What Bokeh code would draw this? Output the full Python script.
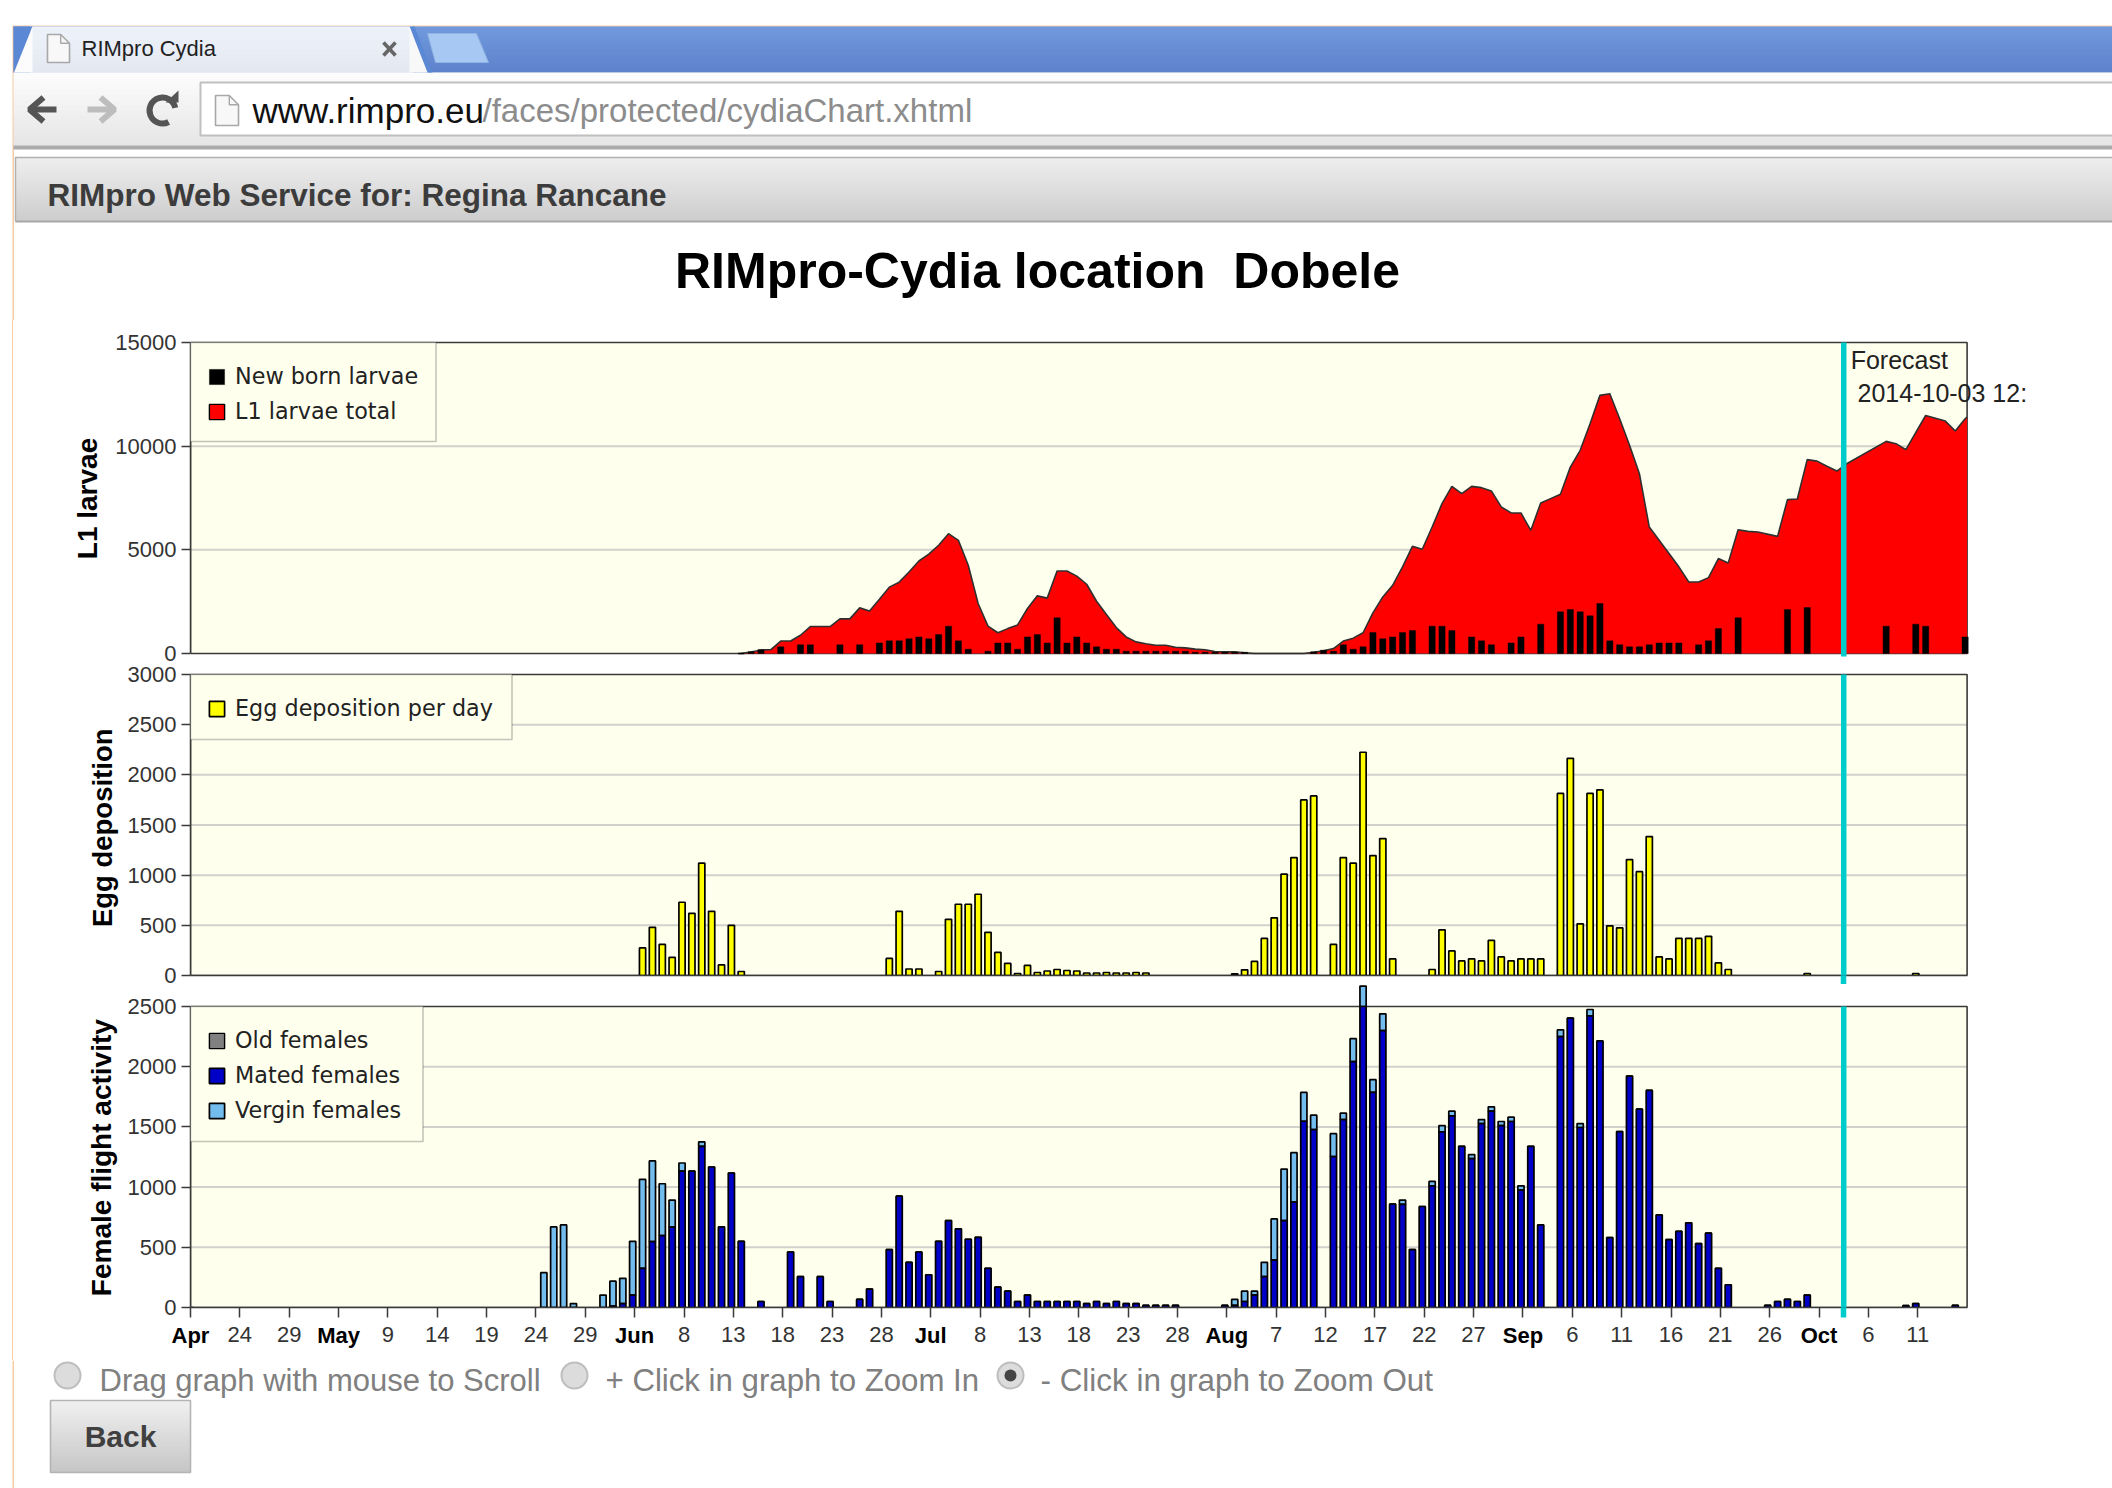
from bokeh.plotting import figure
from bokeh.embed import file_html
from bokeh.resources import INLINE
from bokeh.layouts import column
from bokeh.models import (Range1d, LinearAxis, FixedTicker, Legend, LegendItem, Label, BoxAnnotation)
from bokeh.core.properties import value

# ---------------------------------------------------------------- data
# x = days since 19 April 2014
tick_days = [5, 10, 20, 25, 30, 35, 40, 50, 55, 60, 65, 70, 80, 85, 90, 95, 100, 110, 115, 120, 125, 130, 140, 145, 150, 155, 160, 170, 175]
tick_labels = ["24", "29", "9", "14", "19", "24", "29", "8", "13", "18", "23", "28", "8", "13", "18", "23", "28", "7", "12", "17", "22", "27", "6", "11", "16", "21", "26", "6", "11"]
month_days = [0, 15, 45, 75, 105, 135, 165]
month_labels = ["Apr", "May", "Jun", "Jul", "Aug", "Sep", "Oct"]
forecast_day = 167.5

larvae_days = [55, 57, 58, 59, 60, 61, 62, 63, 64, 65, 66, 67, 68, 69, 70, 71, 72, 73, 74, 75, 76, 77, 78, 79, 80, 81, 82, 83, 84, 85, 86, 87, 88, 89, 90, 91, 92, 93, 94, 95, 96, 97, 98, 99, 100, 101, 102, 103, 104, 105, 106, 107, 112, 113, 114, 115, 116, 117, 118, 119, 120, 121, 122, 123, 124, 125, 126, 127, 128, 129, 130, 131, 132, 133, 134, 135, 136, 137, 138, 139, 140, 141, 142, 143, 144, 145, 146, 147, 148, 149, 150, 151, 152, 153, 154, 155, 156, 157, 158, 160, 161, 162, 163, 164, 165, 166, 167, 171, 172, 173, 175, 177, 178, 179, 179.2]
larvae_total = [0, 160, 190, 600, 600, 880, 1300, 1300, 1300, 1670, 1670, 2200, 2050, 2620, 3200, 3440, 3930, 4460, 4790, 5220, 5780, 5460, 4260, 2410, 1320, 1000, 1200, 1380, 2170, 2780, 2670, 3980, 3980, 3730, 3340, 2520, 1880, 1250, 800, 560, 470, 400, 400, 300, 270, 210, 180, 100, 80, 80, 30, 0, 0, 60, 130, 240, 600, 740, 1000, 1960, 2730, 3290, 4180, 5170, 5030, 6100, 7230, 8060, 7710, 8060, 8000, 7840, 7070, 6780, 6780, 5940, 7260, 7470, 7680, 8990, 9800, 11080, 12450, 12530, 11320, 10040, 8670, 6100, 5460, 4820, 4180, 3450, 3450, 3660, 4580, 4370, 5970, 5890, 5860, 5650, 7420, 7450, 9350, 9280, 9030, 8800, 9150, 10230, 10120, 9830, 11480, 11210, 10730, 11320, 11400]

newborn_days = [56, 57, 59, 61, 62, 65, 67, 69, 70, 71, 72, 73, 74, 75, 76, 77, 78, 80, 81, 82, 83, 84, 85, 86, 87, 88, 89, 90, 91, 92, 93, 94, 95, 96, 97, 98, 99, 100, 101, 102, 103, 104, 105, 106, 113, 114, 115, 116, 117, 118, 119, 120, 121, 122, 123, 125, 126, 127, 129, 130, 131, 133, 134, 136, 138, 139, 140, 141, 142, 143, 144, 145, 146, 147, 148, 149, 150, 152, 153, 154, 156, 161, 163, 171, 174, 175, 179]
newborn = [80, 190, 320, 420, 420, 420, 420, 510, 610, 610, 710, 800, 710, 915, 1320, 610, 210, 110, 510, 510, 210, 800, 915, 510, 1720, 510, 800, 510, 320, 210, 210, 110, 110, 110, 110, 110, 110, 110, 60, 60, 60, 60, 60, 60, 80, 160, 110, 420, 210, 320, 1010, 710, 800, 1010, 1110, 1320, 1320, 1110, 800, 610, 420, 510, 800, 1415, 2010, 2120, 2010, 1815, 2410, 610, 420, 320, 320, 420, 510, 510, 510, 420, 610, 1205, 1720, 2120, 2215, 1320, 1415, 1320, 800]

egg_days = [45, 46, 47, 48, 49, 50, 51, 52, 53, 54, 55, 70, 71, 72, 73, 75, 76, 77, 78, 79, 80, 81, 82, 83, 84, 85, 86, 87, 88, 89, 90, 91, 92, 93, 94, 95, 96, 105, 106, 107, 108, 109, 110, 111, 112, 113, 115, 116, 117, 118, 119, 120, 121, 125, 126, 127, 128, 129, 130, 131, 132, 133, 134, 135, 136, 138, 139, 140, 141, 142, 143, 144, 145, 146, 147, 148, 149, 150, 151, 152, 153, 154, 155, 163, 174]
egg_values = [275, 480, 310, 180, 730, 620, 1120, 640, 105, 500, 40, 170, 640, 65, 65, 40, 560, 710, 710, 810, 430, 230, 120, 20, 100, 30, 45, 60, 50, 45, 25, 25, 30, 25, 25, 30, 25, 17, 57, 140, 370, 575, 1010, 1175, 1750, 1790, 310, 1175, 1120, 2225, 1195, 1365, 165, 60, 455, 245, 145, 165, 145, 350, 185, 145, 165, 165, 165, 1815, 2165, 515, 1815, 1850, 495, 475, 1155, 1035, 1385, 185, 165, 370, 370, 370, 390, 125, 60, 20, 20]

flight_days = [35, 36, 37, 38, 41, 42, 43, 44, 45, 46, 47, 48, 49, 50, 51, 52, 53, 54, 55, 57, 60, 61, 63, 64, 67, 68, 70, 71, 72, 73, 74, 75, 76, 77, 78, 79, 80, 81, 82, 83, 84, 85, 86, 87, 88, 89, 90, 91, 92, 93, 94, 95, 96, 97, 98, 99, 104, 105, 106, 107, 108, 109, 110, 111, 112, 113, 115, 116, 117, 118, 119, 120, 121, 122, 123, 124, 125, 126, 127, 128, 129, 130, 131, 132, 133, 134, 135, 136, 138, 139, 140, 141, 142, 143, 144, 145, 146, 147, 148, 149, 150, 151, 152, 153, 154, 155, 159, 160, 161, 162, 163, 173, 174, 178]
mated_females = [0, 0, 0, 0, 0, 11, 33, 103, 325, 547, 597, 667, 1133, 1133, 1339, 1167, 669, 1117, 550, 50, 461, 256, 256, 50, 67, 153, 481, 925, 375, 461, 272, 550, 722, 653, 567, 583, 325, 169, 136, 50, 103, 50, 50, 50, 50, 50, 33, 50, 33, 50, 33, 33, 17, 17, 17, 17, 17, 17, 50, 103, 256, 394, 722, 875, 1547, 1478, 1253, 1561, 2042, 2500, 1786, 2300, 858, 856, 481, 839, 1011, 1458, 1592, 1339, 1236, 1528, 1631, 1511, 1545, 975, 1339, 686, 2250, 2403, 1495, 2422, 2214, 581, 1461, 1922, 1647, 1803, 769, 564, 633, 703, 531, 617, 325, 189, 17, 50, 67, 50, 103, 15, 33, 17]
vergin_females = [289, 669, 686, 33, 103, 208, 209, 447, 739, 670, 431, 225, 67, 0, 36, 0, 0, 0, 0, 0, 0, 0, 0, 0, 0, 0, 0, 0, 0, 0, 0, 0, 0, 0, 0, 0, 0, 0, 0, 0, 0, 0, 0, 0, 0, 0, 0, 0, 0, 0, 0, 0, 0, 0, 0, 0, 0, 50, 86, 33, 119, 342, 428, 411, 239, 119, 191, 53, 191, 170, 106, 139, 0, 36, 0, 0, 36, 53, 39, 0, 34, 33, 36, 34, 36, 36, 0, 0, 56, 0, 33, 53, 0, 0, 0, 0, 0, 0, 0, 0, 0, 0, 0, 0, 0, 0, 0, 0, 0, 0, 0, 0, 0, 0]
old_females_days = [0]
old_females = [0]

# ---------------------------------------------------------------- styles
F = "Liberation Sans"
IVORY = "#FFFFEE"
GRID = "#D2D2CC"
DARK = "#3A3A3A"
PEACH = "#F7CBA4"
CYAN = "#00CCCC"
PAGE_W = 2112
PX_PER_DAY = 9.87
COL_X = 13.5         # left edge of the chart column on the page
X0 = 190.5           # page pixel of day 0 = frame left
W = 2098
BAR_OFFSET = 0.8
BAR_W = 0.63
BAR_LINE = 1.7
x_end = (COL_X + W - X0) / PX_PER_DAY


def panel(fig_top, fig_bot, frame_top, frame_bot, ptop, pzero, ymax, ystep, ylabel, standoff, label_size="28px"):
    k = ymax / (pzero - ptop)
    yr = Range1d((pzero - frame_bot) * k, (pzero - frame_top) * k)
    h = fig_bot - fig_top
    p = figure(width=W, height=h, x_range=Range1d(0, x_end), y_range=yr, output_backend="svg", toolbar_location=None,
               x_axis_location=None, y_axis_location=None, min_border_left=int(X0 - COL_X), min_border_right=0,
               min_border_top=frame_top - fig_top, min_border_bottom=fig_bot - frame_bot,
               background_fill_color="white", border_fill_color="white", outline_line_color=None)
    p.grid.visible = False
    ticks = list(range(0, ymax + 1, ystep))
    ax = LinearAxis(ticker=FixedTicker(ticks=ticks), bounds=(0, ymax),
                    major_tick_in=0, major_tick_out=9, minor_tick_line_color=None,
                    axis_line_color=DARK, axis_line_width=1.5, major_tick_line_color=DARK, major_tick_line_width=1.5,
                    major_label_text_font=F, major_label_text_font_size="22px", major_label_text_color="#333333",
                    major_label_standoff=5, axis_label=ylabel, axis_label_text_font=F,
                    axis_label_text_font_style="bold", axis_label_text_font_size=label_size,
                    axis_label_text_color="black", axis_label_standoff=standoff)
    p.add_layout(ax, "left")
    p.quad(left=[0], right=[180], bottom=[0], top=[ymax], fill_color=IVORY, line_color=None, level="image")
    for t in ticks[1:-1]:
        p.line(x=[0, 180], y=[t, t], line_color=GRID, line_width=2, level="underlay")
    p.quad(left=[0], right=[180], bottom=[0], top=[ymax], fill_color=None, line_color=DARK, line_width=1.6,
           level="underlay")
    return p, k


def cyan(p, ymax):
    p.segment(x0=[forecast_day], y0=[p.y_range.start], x1=[forecast_day], y1=[ymax], line_color=CYAN, line_width=5.5,
              level="overlay")


def tail_axis(tick_in, tick_out, line_color=None):
    return LinearAxis(ticker=FixedTicker(ticks=[forecast_day]), major_label_overrides={forecast_day: ""},
                      major_tick_in=tick_in, major_tick_out=tick_out, minor_tick_line_color=None,
                      axis_line_color=line_color, axis_line_width=1.5, major_tick_line_color=CYAN,
                      major_tick_line_width=5.5, major_label_text_font_size="1px", major_label_standoff=0,
                      bounds=(0, 180))


def legend(p, items, box_right, box_top, box_bottom, frame_bot, first_row_top):
    p.add_layout(BoxAnnotation(left=0, right=box_right - X0, top=frame_bot - box_top,
                               bottom=frame_bot - box_bottom, left_units="screen", right_units="screen",
                               top_units="screen", bottom_units="screen", fill_color=IVORY, fill_alpha=1,
                               line_color=DARK, line_width=1.6, level="annotation"))
    n = len(items)
    row_h, gap = 25, 9
    total = row_h * n + gap * (n - 1)
    lg = Legend(items=items, location=(17, frame_bot - (first_row_top + total)), orientation="vertical",
                padding=0, margin=0, spacing=gap, glyph_width=19, glyph_height=19, label_height=18,
                label_standoff=9, border_line_color=None, background_fill_alpha=0, label_text_font="DejaVu Sans",
                label_text_font_size="22.3px", label_text_color="#222222", label_text_baseline="middle")
    p.add_layout(lg, "center")


# ---------------------------------------------------------------- panel 1
p1, k1 = panel(320, 664, 340, 656, 342, 653, 15000, 5000, "L1 larvae", 9)
area_x = [d + BAR_OFFSET for d in larvae_days]
p1.varea(x=area_x, y1=[0] * len(area_x), y2=larvae_total, fill_color="#FF0000")
p1.line(x=area_x, y=larvae_total, line_color="#303030", line_width=1.6)
nb = p1.vbar(x=[d + BAR_OFFSET for d in newborn_days], top=newborn, width=BAR_W, fill_color="black", line_color="black",
             line_width=0.4)
lt = p1.vbar(x=area_x[:1], top=larvae_total[:1], width=BAR_W, fill_color="#FF0000", line_color="black", line_width=1.4)
cyan(p1, 15000)
legend(p1, [LegendItem(label="New born larvae", renderers=[nb]), LegendItem(label="L1 larvae total", renderers=[lt])],
       436, 342, 441, 656, 365)
p1.add_layout(Label(x=forecast_day + 0.7, y=14180, text="Forecast", text_font=F, text_font_size="25px",
                    text_color="#222222", text_baseline="middle"))
p1.add_layout(Label(x=forecast_day + 1.4, y=12580, text="2014-10-03 12:", text_font=F, text_font_size="25px",
                    text_color="#222222", text_baseline="middle"))

# ---------------------------------------------------------------- panel 2
p2, k2 = panel(664, 984, 672, 975, 674, 975, 3000, 500, "Egg deposition\u00a0", 7, "27.5px")
eg = p2.vbar(x=[d + BAR_OFFSET for d in egg_days], top=egg_values, width=BAR_W, fill_color="#FFFF00", line_color="black",
             line_width=BAR_LINE)
cyan(p2, 3000)
p2.add_layout(tail_axis(0, 9, DARK), "below")
legend(p2, [LegendItem(label="Egg deposition per day", renderers=[eg])], 512, 674, 739, 975, 696)

# ---------------------------------------------------------------- panel 3
p3, k3 = panel(984, 1360, 984, 1307, 1006, 1307, 2500, 500, "Female flight activity\u00a0\u00a0\u00a0", 8)
bx = [d + BAR_OFFSET for d in flight_days]
totals = [m + v for m, v in zip(mated_females, vergin_females)]
vg = p3.vbar(x=bx, bottom=mated_females, top=totals, width=BAR_W, fill_color="#72BCEE", line_color="black", line_width=BAR_LINE)
mt = p3.vbar(x=bx, top=mated_females, width=BAR_W, fill_color="#0000C8", line_color="black", line_width=BAR_LINE)
od = p3.vbar(x=old_females_days, top=old_females, width=BAR_W, fill_color="#808080", line_color="black", line_width=1.4)
cyan(p3, 2500)
legend(p3, [LegendItem(label="Old females", renderers=[od]), LegendItem(label="Mated females", renderers=[mt]),
            LegendItem(label="Vergin females", renderers=[vg])], 423, 1006, 1141, 1307, 1030)

overrides = {d: s for d, s in zip(tick_days, tick_labels)}
overrides.update({d: "" for d in month_days})
ax_tail = tail_axis(0, 10, DARK)
ax_days = LinearAxis(ticker=FixedTicker(ticks=tick_days + month_days), major_label_overrides=overrides,
                     major_label_text_color="#333333", major_tick_in=10, major_tick_out=0,
                     minor_tick_line_color=None, axis_line_color=None,
                     major_tick_line_color=DARK, major_tick_line_width=1.5, major_label_text_font=F,
                     major_label_text_font_size="22px", major_label_standoff=9, bounds=(0, 180))
ax_months = LinearAxis(ticker=FixedTicker(ticks=month_days),
                       major_label_overrides={d: s for d, s in zip(month_days, month_labels)},
                       major_label_text_color="black", major_label_text_font_style="bold", major_tick_in=0,
                       major_tick_out=0, minor_tick_line_color=None, axis_line_color=None,
                       major_tick_line_color=None, major_label_text_font=F, major_label_text_font_size="22px",
                       major_label_standoff=-22, bounds=(0, 180))
p3.add_layout(ax_tail, "below")
p3.add_layout(ax_days, "below")
p3.add_layout(ax_months, "below")


# ---------------------------------------------------------------- browser page parts
def page_fig(y0, y1):
    p = figure(width=PAGE_W, height=y1 - y0, x_range=Range1d(0, PAGE_W), y_range=Range1d(y1, y0), output_backend="svg",
               toolbar_location=None, x_axis_location=None, y_axis_location=None, min_border=0,
               outline_line_color=None, background_fill_color="white", border_fill_color="white")
    p.grid.visible = False
    p.quad(left=[12], right=[13.5], top=[y0 if y0 else 25], bottom=[y1], fill_color=PEACH, line_color=None)
    return p


def hexc(a, b, t):
    c = [round(a[i] + (b[i] - a[i]) * t) for i in range(3)]
    return "#%02x%02x%02x" % tuple(c)


def grad(p, x0, x1, y0, y1, c0, c1):
    n = y1 - y0
    p.quad(left=[x0] * n, right=[x1] * n, top=[y0 + i for i in range(n)], bottom=[y0 + i + 1.3 for i in range(n)],
           fill_color=[hexc(c0, c1, i / max(n - 1, 1)) for i in range(n)], line_color=None)


def txt(p, x, y, s, size, color="black", style="normal", align="left", font=F):
    p.text(x=[x], y=[y], text=[s], text_font=value(font), text_font_size=size, text_color=color,
           text_font_style=style, text_align=align, text_baseline="middle")


def doc_icon(p, x0, x1, y0, y1):
    f = (x1 - x0) * 0.4
    p.patch(x=[x0, x1 - f, x1, x1, x0], y=[y0, y0, y0 + f, y1, y1], fill_color="#F8F8F8", line_color="#A8A8A8",
            line_width=1.6)
    p.line(x=[x1 - f, x1 - f, x1], y=[y0, y0 + f, y0 + f], line_color="#A8A8A8", line_width=1.4)


R = PAGE_W
top = page_fig(0, 320)
top.quad(left=[13], right=[R], top=[25], bottom=[26.2], fill_color=PEACH, line_color=None)
grad(top, 13, R, 26, 72, (92, 138, 216), (72, 114, 198))
# toolbar
grad(top, 13, R, 72, 145, (253, 253, 253), (226, 226, 226))
top.quad(left=[13], right=[R], top=[145], bottom=[149], fill_color="#ABABAB", line_color=None)
# tab
grad(top, 30, 412, 26, 72, (255, 255, 255), (246, 246, 246))
top.patch(x=[13, 32, 13.5], y=[26, 26, 72], fill_color="#5A88D4", line_color=None)
top.patch(x=[13.5, 32, 32], y=[72, 26, 72], fill_color="#FCFCFC", line_color=None)
top.patch(x=[409, 414, 432, 427], y=[26, 26, 72, 72], fill_color="#5A88D4", line_color=None)
top.patch(x=[409, 427, 409], y=[26, 72, 72], fill_color="#F8F8F8", line_color=None)
doc_icon(top, 47, 69, 34, 62)
txt(top, 81, 48, "RIMpro Cydia", "22px", "#222222")
top.multi_line(xs=[[383, 395], [383, 395]], ys=[[42, 55], [55, 42]], line_color="#666666", line_width=3.6)
# new tab button
top.patch(x=[427, 476, 488, 435], y=[33, 33, 62, 62], fill_color="#A6C8F2", line_color="#8FB3E2", line_width=1)
# nav icons
top.multi_line(xs=[[56, 30], [43, 29, 43]], ys=[[109, 109], [97, 109, 121]], line_color="#555555", line_width=6)
top.multi_line(xs=[[87, 113], [100, 114, 100]], ys=[[109, 109], [97, 109, 121]], line_color="#BDBDBD", line_width=6)
top.arc(x=[162], y=[110], radius=[13], start_angle=[0.2], end_angle=[5.2], line_color="#555555", line_width=6)
top.patch(x=[165, 178, 178], y=[102, 102, 90], fill_color="#555555", line_color=None)
# address bar
top.quad(left=[200], right=[R + 4], top=[82], bottom=[135], fill_color="white", line_color="#C0C0C0", line_width=2)
doc_icon(top, 215, 238, 95, 125)
txt(top, 252, 110, "www.rimpro.eu", "35px", "#111111")
txt(top, 482, 110, "/faces/protected/cydiaChart.xhtml", "33px", "#8C8C8C")
# header bar
grad(top, 15, R, 157, 221, (236, 236, 236), (198, 198, 198))
top.line(x=[15, 15, R], y=[221, 157, 157], line_color="#B0B0B0", line_width=1.5)
top.line(x=[15, R], y=[221, 221], line_color="#A8A8A8", line_width=2)
txt(top, 47, 194, "RIMpro Web Service for: Regina Rancane", "31.5px", "#3C3C3C", "bold")
# page title
txt(top, 1037, 270, "RIMpro-Cydia location\u00a0 Dobele", "50px", "black", "bold", "center")

bottom = page_fig(1360, 1488)
bottom.circle(x=[67, 574, 1010], y=[1375, 1375, 1375], radius=[13, 13, 13], fill_color="#DCDCDC", line_color="#BEBEBE",
              line_width=2)
bottom.circle(x=[1010], y=[1375], radius=[6], fill_color="#444444", line_color=None)
txt(bottom, 99, 1380, "Drag graph with mouse to Scroll", "31px", "#808080")
txt(bottom, 605, 1380, "+ Click in graph to Zoom In", "31.2px", "#808080")
txt(bottom, 1040, 1380, "- Click in graph to Zoom Out", "31.4px", "#808080")
grad(bottom, 50, 190, 1400, 1472, (238, 238, 238), (190, 190, 190))
bottom.quad(left=[50], right=[190], top=[1400], bottom=[1472], fill_color=None, line_color="#B4B4B4", line_width=1.6)
txt(bottom, 120, 1436, "Back", "30px", "#404040", "bold", "center")

charts = column(p1, p2, p3, spacing=0, styles={"margin-left": "12px", "border-left": "1.5px solid " + PEACH})
page = column(column(top), charts, column(bottom), spacing=0)
open("out.html", "w").write(file_html(page, INLINE))
